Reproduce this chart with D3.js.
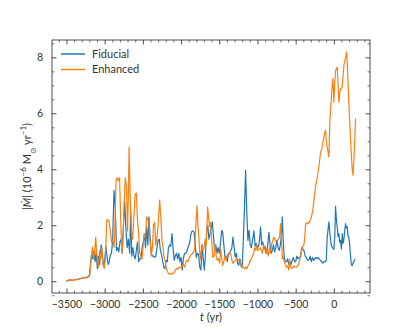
<!DOCTYPE html>
<html>
<head>
<meta charset="utf-8">
<script src="https://cdn.jsdelivr.net/npm/d3@7"></script>
<style>
  body { margin: 0; background: #fff; }
  text { font-family: Lato, "DejaVu Sans", sans-serif; fill: #333; }
</style>
</head>
<body>
<svg id="chart" width="411" height="329"></svg>
<script>
const svg = d3.select("#chart");

// Fiducial run: time (yr) and |Mdot| (1e-6 Msun/yr)
const fidT = [-3500, -3480, -3450, -3420, -3400, -3370, -3340, -3310, -3280, -3250, -3220, -3200, -3185, -3170, -3155, -3140, -3125, -3110, -3095, -3080,
  -3065, -3045, -3030, -3015, -3000, -2985, -2970, -2955, -2940, -2925, -2910, -2895, -2877, -2860, -2845, -2830, -2815, -2800, -2785, -2770,
  -2755, -2738, -2720, -2705, -2690, -2672, -2659, -2645, -2630, -2615, -2600, -2585, -2570, -2555, -2540, -2525, -2510, -2495, -2480, -2465,
  -2450, -2435, -2420, -2405, -2390, -2375, -2360, -2345, -2330, -2315, -2300, -2285, -2270, -2255, -2240, -2225, -2210, -2195, -2180, -2165,
  -2150, -2135, -2118, -2105, -2090, -2075, -2060, -2045, -2030, -2015, -2000, -1985, -1970, -1955, -1940, -1925, -1910, -1895, -1880, -1865,
  -1845, -1830, -1815, -1800, -1785, -1770, -1755, -1740, -1725, -1710, -1695, -1680, -1665, -1650, -1635, -1620, -1605, -1591, -1575, -1560,
  -1545, -1530, -1515, -1500, -1482, -1468, -1455, -1440, -1425, -1410, -1395, -1380, -1365, -1350, -1335, -1321, -1305, -1290, -1275, -1260,
  -1245, -1230, -1215, -1200, -1185, -1170, -1155, -1140, -1125, -1110, -1095, -1080, -1065, -1046, -1030, -1015, -1000, -985, -972, -959,
  -945, -930, -915, -900, -885, -870, -850, -835, -820, -805, -790, -775, -760, -745, -730, -715, -700, -685, -675, -665,
  -650, -635, -620, -605, -590, -575, -560, -545, -530, -515, -500, -485, -470, -455, -436, -420, -405, -392, -375, -360,
  -345, -327, -310, -295, -280, -265, -250, -235, -220, -205, -190, -175, -160, -145, -130, -115, -100, -87, -65, -52,
  -35, -20, 0, 12, 22, 33, 44, 55, 65, 76, 87, 98, 110, 120, 131, 142, 153, 164, 175, 186,
  196, 207, 218, 229, 240, 250, 262, 275];
const fidV = [0.0, 0.02, 0.05, 0.03, 0.05, 0.06, 0.08, 0.1, 0.12, 0.13, 0.16, 0.2, 0.6, 1.0, 0.8, 1.1, 0.7, 1.05, 0.45, 0.9,
  0.6, 1.3, 0.9, 0.55, 0.7, 1.25, 0.9, 0.6, 0.7, 0.95, 1.0, 1.5, 3.25, 2.6, 1.1, 1.2, 1.05, 1.4, 1.5, 1.0,
  1.9, 2.85, 1.8, 1.2, 1.5, 1.0, 2.5, 0.9, 1.2, 0.9, 0.8, 1.1, 1.4, 0.7, 0.8, 0.8, 1.2, 1.4, 1.7, 1.2,
  1.95, 1.3, 2.3, 1.6, 1.0, 0.9, 0.9, 0.85, 0.9, 1.2, 1.46, 1.5, 1.1, 0.95, 0.7, 0.5, 0.45, 0.75, 0.7, 1.2,
  1.3, 1.25, 1.7, 1.2, 0.75, 0.9, 1.0, 0.8, 1.0, 0.7, 0.85, 0.4, 0.8, 1.0, 1.0, 1.05, 1.2, 1.3, 1.5, 1.76,
  1.8, 1.75, 1.3, 0.85, 1.0, 0.95, 0.5, 0.4, 1.3, 0.8, 0.4, 1.0, 1.8, 2.0, 1.5, 1.7, 1.9, 2.12, 1.6, 1.1,
  1.3, 1.0, 1.2, 1.0, 1.4, 1.82, 1.76, 1.3, 0.86, 0.9, 0.7, 0.95, 1.0, 1.1, 1.2, 1.58, 1.2, 0.86, 1.0, 0.64,
  0.57, 0.8, 0.55, 0.5, 1.46, 2.6, 3.96, 2.5, 1.46, 1.82, 1.3, 1.2, 1.46, 1.8, 1.25, 1.35, 1.2, 1.25, 1.5, 1.94,
  1.3, 1.4, 1.15, 1.25, 1.0, 1.2, 1.75, 1.3, 1.0, 1.1, 1.3, 1.05, 1.2, 1.46, 1.2, 1.1, 1.3, 1.7, 2.3, 1.6,
  0.86, 0.7, 0.7, 0.8, 0.6, 0.7, 0.6, 0.75, 0.85, 0.7, 0.7, 0.9, 0.8, 0.85, 0.87, 1.2, 1.15, 1.1, 0.9, 0.85,
  0.75, 0.75, 0.9, 0.7, 0.85, 0.75, 0.8, 0.85, 0.8, 0.85, 0.8, 0.75, 0.7, 0.65, 0.7, 0.7, 0.72, 1.58, 2.12, 1.7,
  1.3, 1.2, 1.14, 1.6, 2.68, 2.2, 1.95, 1.6, 1.7, 1.4, 1.46, 1.15, 1.7, 1.35, 1.5, 1.8, 2.06, 1.9, 1.95, 1.6,
  1.58, 1.3, 0.9, 0.6, 0.55, 0.65, 0.7, 0.8];

// Enhanced run
const enhT = [-3500, -3480, -3460, -3440, -3420, -3400, -3380, -3350, -3320, -3290, -3260, -3230, -3210, -3195, -3180, -3160, -3145, -3130, -3117, -3105,
  -3090, -3080, -3065, -3050, -3035, -3020, -3005, -2990, -2973, -2955, -2940, -2925, -2910, -2895, -2877, -2865, -2850, -2835, -2820, -2805,
  -2790, -2775, -2760, -2745, -2730, -2715, -2700, -2690, -2680, -2665, -2650, -2635, -2620, -2600, -2585, -2570, -2555, -2540, -2525, -2510,
  -2495, -2480, -2465, -2450, -2435, -2420, -2405, -2390, -2375, -2360, -2346, -2330, -2315, -2300, -2280, -2265, -2250, -2235, -2225, -2210,
  -2195, -2180, -2165, -2150, -2136, -2120, -2105, -2090, -2075, -2060, -2045, -2030, -2015, -2000, -1985, -1970, -1955, -1940, -1925, -1910,
  -1895, -1880, -1865, -1850, -1835, -1820, -1810, -1800, -1790, -1780, -1765, -1755, -1744, -1730, -1715, -1700, -1685, -1670, -1660, -1652,
  -1640, -1628, -1615, -1600, -1585, -1570, -1555, -1540, -1525, -1510, -1495, -1482, -1470, -1455, -1440, -1425, -1410, -1395, -1380, -1365,
  -1351, -1335, -1320, -1305, -1290, -1275, -1260, -1245, -1230, -1215, -1200, -1185, -1170, -1155, -1140, -1125, -1110, -1095, -1080, -1065,
  -1050, -1035, -1020, -1010, -995, -980, -965, -950, -935, -920, -905, -890, -875, -860, -845, -830, -815, -800, -785, -770,
  -755, -740, -725, -710, -697, -685, -675, -665, -650, -635, -620, -605, -590, -580, -565, -550, -535, -520, -505, -490,
  -475, -460, -445, -436, -420, -405, -392, -380, -370, -355, -340, -327, -315, -305, -290, -275, -260, -240, -225, -210,
  -195, -174, -160, -152, -140, -131, -120, -109, -98, -87, -75, -65, -52, -43, -35, -24, -13, -5, 0, 10,
  22, 33, 44, 55, 65, 76, 87, 98, 109, 120, 131, 145, 155, 166, 175, 183, 196, 209, 220, 231,
  240, 249, 260, 270, 284];
const enhV = [0.0, 0.03, 0.06, 0.05, 0.02, 0.04, 0.07, 0.06, 0.09, 0.1, 0.14, 0.12, 0.16, 0.2, 0.7, 1.22, 0.8, 1.1, 1.58, 1.0,
  0.7, 0.5, 1.1, 0.8, 1.2, 0.6, 0.45, 0.8, 2.18, 2.2, 2.1, 1.8, 1.4, 1.5, 1.2, 2.0, 3.6, 3.7, 3.6, 3.7,
  2.2, 1.0, 1.5, 2.8, 3.7, 3.4, 1.8, 3.0, 4.8, 3.0, 1.8, 1.5, 2.2, 3.1, 3.15, 2.2, 1.7, 1.0, 0.9, 0.8,
  1.3, 1.7, 1.6, 2.3, 2.2, 2.1, 1.4, 0.9, 1.2, 2.0, 2.1, 1.3, 1.6, 2.0, 2.9, 2.3, 1.46, 1.2, 0.9, 0.75,
  0.5, 0.35, 0.28, 0.25, 0.28, 0.25, 0.3, 0.3, 0.4, 0.45, 0.42, 0.5, 0.48, 0.5, 0.55, 0.6, 0.5, 0.65, 0.75, 0.7,
  0.8, 0.9, 0.95, 1.0, 1.05, 1.2, 1.8, 2.3, 2.7, 2.0, 1.5, 1.0, 0.8, 1.3, 1.1, 1.2, 1.5, 1.3, 2.0, 2.65,
  2.3, 1.96, 2.1, 1.5, 0.85, 0.9, 1.3, 0.9, 0.75, 0.8, 0.65, 1.16, 0.86, 0.57, 0.7, 0.9, 0.75, 0.9, 1.0, 1.0,
  1.0, 0.75, 0.64, 0.7, 0.75, 0.8, 0.78, 0.75, 0.7, 0.62, 0.55, 0.48, 0.45, 0.5, 0.45, 0.55, 0.6, 0.75, 0.8, 0.9,
  1.0, 1.2, 1.1, 1.3, 1.1, 1.15, 1.2, 1.1, 1.0, 1.3, 1.2, 1.0, 1.1, 0.9, 1.2, 1.0, 1.3, 1.45, 1.58, 1.5,
  1.4, 1.45, 1.5, 1.6, 2.06, 1.5, 0.8, 0.9, 0.7, 0.6, 0.5, 0.55, 0.4, 0.8, 0.5, 0.45, 0.5, 0.55, 0.5, 0.5,
  0.55, 0.6, 0.8, 0.99, 1.1, 1.25, 1.3, 1.6, 2.06, 2.05, 2.1, 2.07, 2.15, 2.2, 2.35, 2.54, 2.9, 3.37, 3.6, 3.85,
  4.1, 4.62, 4.7, 4.8, 5.0, 5.15, 5.3, 5.4, 5.0, 4.8, 4.6, 4.44, 5.75, 6.1, 6.46, 6.9, 7.24, 6.8, 6.4, 7.0,
  7.53, 7.6, 7.65, 7.0, 6.4, 6.7, 6.88, 6.9, 6.94, 7.3, 7.71, 7.9, 8.0, 8.2, 7.8, 7.3, 6.4, 5.63, 5.0, 4.44,
  4.0, 3.79, 4.2, 4.8, 5.82];

const seriesNames = ["Fiducial", "Enhanced"];
const seriesColors = ["#1f77b4", "#ff7f0e"];
const xTicks = [-3500, -3000, -2500, -2000, -1500, -1000, -500, 0];
const yTicks = [0, 2, 4, 6, 8];

const margin = {left: 52, right: 41, top: 40, bottom: 36};
const W = 411, H = 329;
const x = d3.scaleLinear().domain([-3689, 473]).range([margin.left, W - margin.right]);
const y = d3.scaleLinear().domain([-0.42, 8.62]).range([H - margin.bottom, margin.top]);

const fmt = d => d3.format("d")(d).replace("-", "\u2212");

function addTicks(axisGen, pos, major) {
  const g = svg.append("g").attr("transform", pos).call(axisGen);
  g.select(".domain").remove();
  g.selectAll("line").attr("stroke", "#222").attr("stroke-width", major ? 0.8 : 0.6);
  g.selectAll("text").style("font-family", "Lato, sans-serif").style("font-size", "10.5px").attr("fill", "#444");
  return g;
}

const xMinor = d3.range(-3600, 401, 100);
const yMinor = d3.range(-0.5, 8.6, 0.5);

// bottom & top
addTicks(d3.axisBottom(x).tickValues(xTicks).tickSize(-4.5).tickPadding(8).tickFormat(fmt),
  `translate(0,${H - margin.bottom})`, true);
addTicks(d3.axisBottom(x).tickValues(xMinor.filter(v => v % 500 !== 0)).tickSize(-2.5).tickFormat(""),
  `translate(0,${H - margin.bottom})`, false);
addTicks(d3.axisTop(x).tickValues(xTicks).tickSize(-4.5).tickFormat(""), `translate(0,${margin.top})`, true);
addTicks(d3.axisTop(x).tickValues(xMinor.filter(v => v % 500 !== 0)).tickSize(-2.5).tickFormat(""),
  `translate(0,${margin.top})`, false);
// left & right
addTicks(d3.axisLeft(y).tickValues(yTicks).tickSize(-4.5).tickPadding(9).tickFormat(fmt),
  `translate(${margin.left},0)`, true);
addTicks(d3.axisLeft(y).tickValues(yMinor.filter(v => v % 2 !== 0)).tickSize(-2.5).tickFormat(""),
  `translate(${margin.left},0)`, false);
addTicks(d3.axisRight(y).tickValues(yTicks).tickSize(-4.5).tickFormat(""), `translate(${W - margin.right},0)`, true);
addTicks(d3.axisRight(y).tickValues(yMinor.filter(v => v % 2 !== 0)).tickSize(-2.5).tickFormat(""),
  `translate(${W - margin.right},0)`, false);

// lines
const series = [
  fidT.map((t, i) => ({t: t, v: fidV[i]})),
  enhT.map((t, i) => ({t: t, v: enhV[i]}))
];
const line = d3.line().x(d => x(d.t)).y(d => y(d.v));
svg.selectAll(".series").data(series).join("path")
  .attr("class", "series")
  .attr("fill", "none")
  .attr("stroke", (d, i) => seriesColors[i])
  .attr("stroke-width", 1.2)
  .attr("stroke-linejoin", "round")
  .attr("d", line);

// frame
svg.append("rect")
  .attr("x", margin.left).attr("y", margin.top)
  .attr("width", W - margin.left - margin.right)
  .attr("height", H - margin.top - margin.bottom)
  .attr("fill", "none").attr("stroke", "#222").attr("stroke-width", 0.8);

// legend
const leg = svg.append("g").attr("transform", `translate(${margin.left + 9},${margin.top + 14})`);
seriesNames.forEach((name, i) => {
  leg.append("line").attr("x1", 0).attr("x2", 24).attr("y1", i * 15.5).attr("y2", i * 15.5)
    .attr("stroke", seriesColors[i]).attr("stroke-width", 1.5);
  leg.append("text").attr("x", 31).attr("y", i * 15.5).attr("dy", "0.35em")
    .style("font-size", "11px").attr("fill", "#333").text(name);
});

// axis labels
svg.append("text")
  .attr("x", (margin.left + W - margin.right) / 2).attr("y", 321)
  .attr("text-anchor", "middle").style("font-size", "11px")
  .html('<tspan font-style="italic">t</tspan> (yr)');

const yl = svg.append("text")
  .attr("transform", `translate(31,${(margin.top + H - margin.bottom) / 2}) rotate(-90)`)
  .attr("text-anchor", "middle").style("font-size", "11px");
yl.append("tspan").text("|");
yl.append("tspan").attr("font-style", "italic").text("M\u0307");
yl.append("tspan").text("| (10");
yl.append("tspan").attr("baseline-shift", "super").style("font-size", "8px").text("\u22126");
yl.append("tspan").text(" M");
yl.append("tspan").attr("baseline-shift", "sub").style("font-size", "8px").text("\u2299");
yl.append("tspan").text(" yr");
yl.append("tspan").attr("baseline-shift", "super").style("font-size", "8px").text("\u22121");
yl.append("tspan").text(")");
</script>
</body>
</html>
